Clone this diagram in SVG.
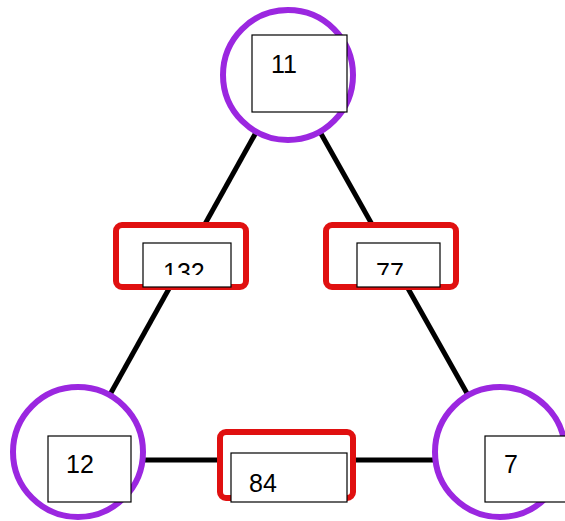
<svg xmlns="http://www.w3.org/2000/svg" width="565" height="521" viewBox="0 0 565 521">
  <style>
    .edge { stroke: #000; stroke-width: 5; fill: none; }
    .node { fill: #fff; stroke: #9b27e0; stroke-width: 6; }
    .weight { fill: #fff; stroke: #e01010; stroke-width: 6; }
    .box { fill: #fff; stroke: #000; stroke-width: 1.2; }
    .lbl { font-family: "Liberation Sans", Arial, sans-serif; font-size: 25px; fill: #000; }
  </style>
  <defs>
    <clipPath id="clip-left"><rect x="143" y="243" width="88" height="32"/></clipPath>
    <clipPath id="clip-right"><rect x="357" y="243" width="83" height="32"/></clipPath>
  </defs>
  <rect width="565" height="521" fill="#fff"/>

  <!-- connectors -->
  <g id="connectors">
    <line class="edge" x1="288" y1="75" x2="78" y2="452"/>
    <line class="edge" x1="288" y1="75" x2="500" y2="452"/>
    <line class="edge" x1="78" y1="460" x2="500" y2="460"/>
  </g>

  <!-- vertices -->
  <g id="node-top">
    <circle class="node" cx="288" cy="75" r="65"/>
    <rect class="box" x="252" y="35" width="95" height="77"/>
    <text class="lbl" x="271" y="73">11</text>
  </g>
  <g id="node-left">
    <circle class="node" cx="78" cy="452" r="65"/>
    <rect class="box" x="48" y="436" width="83" height="66"/>
    <text class="lbl" x="66" y="473">12</text>
  </g>
  <g id="node-right">
    <circle class="node" cx="500" cy="452" r="65"/>
    <rect class="box" x="485" y="436" width="100" height="66"/>
    <text class="lbl" x="504" y="473">7</text>
  </g>

  <!-- edge weights -->
  <g id="weight-left">
    <rect class="weight" x="116" y="225" width="130" height="62" rx="6"/>
    <rect class="box" x="143" y="243" width="88" height="44"/>
    <text class="lbl" x="163" y="281" clip-path="url(#clip-left)">132</text>
  </g>
  <g id="weight-right">
    <rect class="weight" x="326" y="225" width="130" height="62" rx="6"/>
    <rect class="box" x="357" y="243" width="83" height="44"/>
    <text class="lbl" x="376" y="281" clip-path="url(#clip-right)">77</text>
  </g>
  <g id="weight-bottom">
    <rect class="weight" x="220" y="432" width="133" height="66" rx="6"/>
    <rect class="box" x="231" y="453" width="116" height="49"/>
    <text class="lbl" x="249" y="492">84</text>
  </g>
</svg>
